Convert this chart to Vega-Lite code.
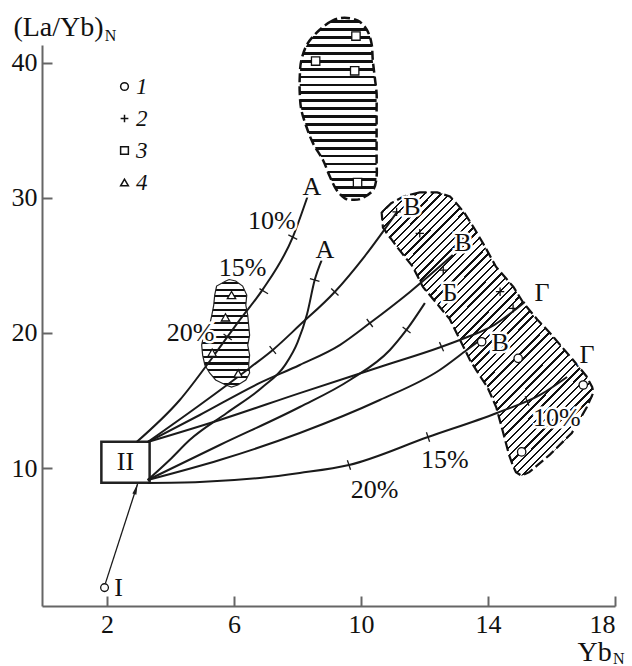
{
"$schema":"https://vega.github.io/schema/vega-lite/v6.json",
"width":573,"height":561,
"autosize":{"type":"none"},
"padding":{"left":42,"top":45,"right":17,"bottom":60},
"background":"white",
"config":{"view":{"stroke":null},"font":"Liberation Serif",
 "axis":{"domainColor":"#666","domainWidth":2,"tickColor":"#666","tickWidth":2,"tickSize":-10,"labelFont":"Liberation Serif","labelFontSize":26,"labelColor":"#111","grid":false,"title":null,"labelPadding":15}},
"datasets":{
"regions":[
{"r":"u","y":29.85,"x":9.76,"x2":9.76},{"r":"u","y":29.96,"x":9.49,"x2":10.03},{"r":"u","y":30.57,"x":9.23,"x2":10.38},{"r":"u","y":31.55,"x":9.02,"x2":10.49},{"r":"u","y":32.79,"x":8.8,"x2":10.49},{"r":"u","y":34.02,"x":8.49,"x2":10.49},{"r":"u","y":35.25,"x":8.28,"x2":10.49},{"r":"u","y":36.49,"x":8.12,"x2":10.49},{"r":"u","y":37.72,"x":8.07,"x2":10.49},{"r":"u","y":38.95,"x":8.07,"x2":10.43},{"r":"u","y":40.18,"x":8.12,"x2":10.37},{"r":"u","y":41.42,"x":8.32,"x2":10.33},{"r":"u","y":42.43,"x":8.7,"x2":10.18},{"r":"u","y":43.1,"x":9.1,"x2":9.9},{"r":"u","y":43.3,"x":9.35,"x2":9.6},
{"r":"t","y":16.0,"x":5.9,"x2":5.95},{"r":"t","y":16.15,"x":5.74,"x2":6.12},{"r":"t","y":16.52,"x":5.42,"x2":6.37},{"r":"t","y":17.04,"x":5.23,"x2":6.49},{"r":"t","y":17.63,"x":5.08,"x2":6.46},{"r":"t","y":18.36,"x":5.01,"x2":6.49},{"r":"t","y":19.1,"x":4.98,"x2":6.43},{"r":"t","y":19.84,"x":5.04,"x2":6.49},{"r":"t","y":20.58,"x":5.23,"x2":6.46},{"r":"t","y":21.32,"x":5.3,"x2":6.43},{"r":"t","y":22.06,"x":5.36,"x2":6.37},{"r":"t","y":22.8,"x":5.39,"x2":6.4},{"r":"t","y":23.47,"x":5.45,"x2":6.27},{"r":"t","y":23.84,"x":5.74,"x2":6.05},{"r":"t","y":23.95,"x":5.85,"x2":5.95},
{"r":"b","y":9.45,"x":15.02,"x2":15.08},{"r":"b","y":9.7,"x":14.88,"x2":15.3},{"r":"b","y":10.2,"x":14.78,"x2":15.55},{"r":"b","y":11.0,"x":14.66,"x2":15.95},{"r":"b","y":12.6,"x":14.48,"x2":16.64},{"r":"b","y":14.5,"x":14.26,"x2":17.11},{"r":"b","y":15.6,"x":14.08,"x2":17.32},{"r":"b","y":16.0,"x":13.98,"x2":17.28},{"r":"b","y":16.8,"x":13.75,"x2":17.1},{"r":"b","y":18.0,"x":13.43,"x2":16.68},{"r":"b","y":20.0,"x":13.01,"x2":15.95},{"r":"b","y":21.0,"x":12.8,"x2":15.55},{"r":"b","y":22.2,"x":12.38,"x2":15.12},{"r":"b","y":23.4,"x":11.95,"x2":14.8},{"r":"b","y":24.9,"x":11.63,"x2":14.25},{"r":"b","y":26.4,"x":11.12,"x2":13.9},{"r":"b","y":27.8,"x":10.69,"x2":13.55},{"r":"b","y":28.9,"x":10.65,"x2":13.25},{"r":"b","y":29.6,"x":10.95,"x2":13.0},{"r":"b","y":30.1,"x":11.35,"x2":12.8},{"r":"b","y":30.4,"x":11.85,"x2":12.4}
],
"outlines":[
{"r":"u","i":0,"x":9.48,"y":43.32},{"r":"u","i":1,"x":9.1,"y":43.1},{"r":"u","i":2,"x":8.7,"y":42.43},{"r":"u","i":3,"x":8.32,"y":41.42},{"r":"u","i":4,"x":8.12,"y":40.18},{"r":"u","i":5,"x":8.07,"y":38.95},{"r":"u","i":6,"x":8.07,"y":37.72},{"r":"u","i":7,"x":8.12,"y":36.49},{"r":"u","i":8,"x":8.28,"y":35.25},{"r":"u","i":9,"x":8.49,"y":34.02},{"r":"u","i":10,"x":8.8,"y":32.79},{"r":"u","i":11,"x":9.02,"y":31.55},{"r":"u","i":12,"x":9.23,"y":30.57},{"r":"u","i":13,"x":9.49,"y":29.96},{"r":"u","i":14,"x":9.76,"y":29.85},{"r":"u","i":15,"x":10.03,"y":29.96},{"r":"u","i":16,"x":10.38,"y":30.57},{"r":"u","i":17,"x":10.49,"y":31.55},{"r":"u","i":18,"x":10.49,"y":32.79},{"r":"u","i":19,"x":10.49,"y":34.02},{"r":"u","i":20,"x":10.49,"y":35.25},{"r":"u","i":21,"x":10.49,"y":36.49},{"r":"u","i":22,"x":10.49,"y":37.72},{"r":"u","i":23,"x":10.43,"y":38.95},{"r":"u","i":24,"x":10.37,"y":40.18},{"r":"u","i":25,"x":10.33,"y":41.42},{"r":"u","i":26,"x":10.18,"y":42.43},{"r":"u","i":27,"x":9.9,"y":43.1},
{"r":"t","i":0,"x":5.85,"y":23.95},{"r":"t","i":1,"x":5.74,"y":23.84},{"r":"t","i":2,"x":5.45,"y":23.47},{"r":"t","i":3,"x":5.39,"y":22.8},{"r":"t","i":4,"x":5.36,"y":22.06},{"r":"t","i":5,"x":5.3,"y":21.32},{"r":"t","i":6,"x":5.23,"y":20.58},{"r":"t","i":7,"x":5.04,"y":19.84},{"r":"t","i":8,"x":4.98,"y":19.1},{"r":"t","i":9,"x":5.01,"y":18.36},{"r":"t","i":10,"x":5.08,"y":17.63},{"r":"t","i":11,"x":5.23,"y":17.04},{"r":"t","i":12,"x":5.42,"y":16.52},{"r":"t","i":13,"x":5.74,"y":16.15},{"r":"t","i":14,"x":5.92,"y":16.0},{"r":"t","i":15,"x":6.12,"y":16.15},{"r":"t","i":16,"x":6.37,"y":16.52},{"r":"t","i":17,"x":6.49,"y":17.04},{"r":"t","i":18,"x":6.46,"y":17.63},{"r":"t","i":19,"x":6.49,"y":18.36},{"r":"t","i":20,"x":6.43,"y":19.1},{"r":"t","i":21,"x":6.49,"y":19.84},{"r":"t","i":22,"x":6.46,"y":20.58},{"r":"t","i":23,"x":6.43,"y":21.32},{"r":"t","i":24,"x":6.37,"y":22.06},{"r":"t","i":25,"x":6.4,"y":22.8},{"r":"t","i":26,"x":6.27,"y":23.47},{"r":"t","i":27,"x":6.05,"y":23.84},
{"r":"b","i":0,"x":11.85,"y":30.4},{"r":"b","i":1,"x":11.35,"y":30.1},{"r":"b","i":2,"x":10.95,"y":29.6},{"r":"b","i":3,"x":10.65,"y":28.9},{"r":"b","i":4,"x":10.69,"y":27.8},{"r":"b","i":5,"x":11.12,"y":26.4},{"r":"b","i":6,"x":11.63,"y":24.9},{"r":"b","i":7,"x":11.95,"y":23.4},{"r":"b","i":8,"x":12.38,"y":22.2},{"r":"b","i":9,"x":12.8,"y":21.0},{"r":"b","i":10,"x":13.01,"y":20.0},{"r":"b","i":11,"x":13.43,"y":18.0},{"r":"b","i":12,"x":13.75,"y":16.8},{"r":"b","i":13,"x":13.98,"y":16.0},{"r":"b","i":14,"x":14.26,"y":14.5},{"r":"b","i":15,"x":14.48,"y":12.6},{"r":"b","i":16,"x":14.66,"y":11.0},{"r":"b","i":17,"x":14.78,"y":10.2},{"r":"b","i":18,"x":14.88,"y":9.7},{"r":"b","i":19,"x":15.05,"y":9.45},{"r":"b","i":20,"x":15.3,"y":9.7},{"r":"b","i":21,"x":15.55,"y":10.2},{"r":"b","i":22,"x":15.95,"y":11.0},{"r":"b","i":23,"x":16.64,"y":12.6},{"r":"b","i":24,"x":17.11,"y":14.5},{"r":"b","i":25,"x":17.32,"y":15.6},{"r":"b","i":26,"x":17.28,"y":16.0},{"r":"b","i":27,"x":17.1,"y":16.8},{"r":"b","i":28,"x":16.68,"y":18.0},{"r":"b","i":29,"x":15.95,"y":20.0},{"r":"b","i":30,"x":15.55,"y":21.0},{"r":"b","i":31,"x":15.12,"y":22.2},{"r":"b","i":32,"x":14.8,"y":23.4},{"r":"b","i":33,"x":14.25,"y":24.9},{"r":"b","i":34,"x":13.9,"y":26.4},{"r":"b","i":35,"x":13.55,"y":27.8},{"r":"b","i":36,"x":13.25,"y":28.9},{"r":"b","i":37,"x":13.0,"y":29.6},{"r":"b","i":38,"x":12.8,"y":30.1},{"r":"b","i":39,"x":12.4,"y":30.4}
],
"curves":[
{"c":"a1","x":2.93,"y":11.93},{"c":"a1","x":4.29,"y":15.04},{"c":"a1","x":5.33,"y":18.22},{"c":"a1","x":6.18,"y":20.97},{"c":"a1","x":6.9,"y":23.2},{"c":"a1","x":7.85,"y":27.09},{"c":"a1","x":8.32,"y":30.13},
{"c":"a2","x":3.28,"y":9.12},{"c":"a2","x":3.97,"y":10.6},{"c":"a2","x":4.6,"y":12.08},{"c":"a2","x":5.77,"y":14.08},{"c":"a2","x":6.9,"y":16.0},{"c":"a2","x":7.6,"y":17.6},{"c":"a2","x":8.0,"y":19.3},{"c":"a2","x":8.3,"y":21.4},{"c":"a2","x":8.54,"y":23.91},{"c":"a2","x":8.76,"y":25.39},
{"c":"b1","x":3.28,"y":11.93},{"c":"b1","x":4.92,"y":14.67},{"c":"b1","x":6.49,"y":17.41},{"c":"b1","x":7.22,"y":18.74},{"c":"b1","x":8.07,"y":20.58},{"c":"b1","x":9.17,"y":23.03},{"c":"b1","x":10.12,"y":25.69},{"c":"b1","x":11.13,"y":28.94},
{"c":"b2","x":3.28,"y":11.93},{"c":"b2","x":4.92,"y":13.93},{"c":"b2","x":6.81,"y":16.3},{"c":"b2","x":8.07,"y":17.63},{"c":"b2","x":9.33,"y":19.1},{"c":"b2","x":10.28,"y":20.73},{"c":"b2","x":11.54,"y":23.03},{"c":"b2","x":12.89,"y":25.76},
{"c":"g1","x":3.28,"y":11.93},{"c":"g1","x":5.55,"y":13.56},{"c":"g1","x":8.07,"y":15.55},{"c":"g1","x":10.59,"y":17.48},{"c":"g1","x":12.54,"y":18.98},{"c":"g1","x":13.11,"y":19.48},{"c":"g1","x":14.2,"y":20.6},{"c":"g1","x":15.16,"y":22.29},
{"c":"bb","x":3.28,"y":9.12},{"c":"bb","x":5.55,"y":11.71},{"c":"bb","x":8.07,"y":14.52},{"c":"bb","x":9.65,"y":16.52},{"c":"bb","x":10.91,"y":18.74},{"c":"bb","x":11.43,"y":20.22},{"c":"bb","x":12.01,"y":22.21},
{"c":"b3","x":3.28,"y":9.12},{"c":"b3","x":5.55,"y":10.6},{"c":"b3","x":8.07,"y":12.6},{"c":"b3","x":10.59,"y":15.04},{"c":"b3","x":12.48,"y":17.26},{"c":"b3","x":13.33,"y":18.74},{"c":"b3","x":13.75,"y":19.48},
{"c":"g2","x":3.28,"y":8.9},{"c":"g2","x":4.92,"y":8.97},{"c":"g2","x":6.81,"y":9.27},{"c":"g2","x":8.07,"y":9.64},{"c":"g2","x":9.62,"y":10.23},{"c":"g2","x":12.11,"y":12.3},{"c":"g2","x":14.28,"y":14.08},{"c":"g2","x":15.64,"y":15.41},{"c":"g2","x":16.49,"y":16.74}
],
"ticks":[
{"x":7.71,"y":27.25,"x2":7.99,"y2":26.92},{"x":6.8,"y":23.28,"x2":7.07,"y2":22.9},{"x":5.67,"y":19.92,"x2":5.93,"y2":19.48},{"x":8.39,"y":24.02,"x2":8.69,"y2":23.81},{"x":7.12,"y":19.02,"x2":7.32,"y2":18.45},{"x":9.06,"y":23.28,"x2":9.29,"y2":22.77},{"x":10.18,"y":21.03,"x2":10.37,"y2":20.44},{"x":11.31,"y":20.44,"x2":11.56,"y2":19.99},{"x":12.47,"y":19.32,"x2":12.6,"y2":18.64},{"x":9.57,"y":10.58,"x2":9.67,"y2":9.88},{"x":12.06,"y":12.65,"x2":12.16,"y2":11.95},{"x":15.17,"y":15.31,"x2":15.29,"y2":14.62}
],
"pts":[
{"g":"1","x":13.8,"y":19.35},{"g":"1","x":14.95,"y":18.12},{"g":"1","x":17.0,"y":16.15},{"g":"1","x":15.06,"y":11.2},
{"g":"2","x":11.12,"y":28.96},{"g":"2","x":11.85,"y":27.37},{"g":"2","x":12.59,"y":24.65},{"g":"2","x":14.38,"y":23.05},{"g":"2","x":14.79,"y":21.82},
{"g":"3","x":9.84,"y":41.96},{"g":"3","x":8.57,"y":40.11},{"g":"3","x":9.8,"y":39.39},{"g":"3","x":9.89,"y":31.12},
{"g":"4","x":5.92,"y":22.8},{"g":"4","x":5.73,"y":21.15},{"g":"4","x":5.31,"y":18.54},{"g":"4","x":6.13,"y":17.0}
],
"labels":[
{"t":"А","x":8.45,"y":30.8},{"t":"А","x":8.86,"y":26.13},{"t":"В","x":11.6,"y":29.32},{"t":"В","x":13.21,"y":26.65},{"t":"Б","x":12.8,"y":22.95},{"t":"Г","x":15.7,"y":22.95},{"t":"В","x":14.38,"y":19.25},{"t":"Г","x":17.12,"y":18.38},
{"t":"10%","x":7.19,"y":28.28},{"t":"15%","x":6.27,"y":24.8},{"t":"20%","x":4.63,"y":19.99},{"t":"10%","x":16.17,"y":13.7},{"t":"15%","x":12.64,"y":10.6},{"t":"20%","x":10.43,"y":8.38},
{"t":"II","x":2.58,"y":10.45},{"t":"I","x":2.36,"y":1.13}
],
"ttl":[{"t":"(La/Yb)","x":1.89,"y":42.55},{"t":"Yb","x":17.9,"y":-3.7}],
"sub":[{"t":"N","x":1.93,"y":42.0},{"t":"N","x":17.94,"y":-4.15}],
"box":[{"x":1.82,"x2":3.34,"y":8.92,"y2":11.95}],
"arrow":[{"x":1.95,"y":1.49,"x2":2.96,"y2":8.82}],
"head":[{"x":2.91,"y":8.45}],
"p0":[{"x":1.92,"y":1.16}]
},
"encoding":{
 "x":{"field":"x","type":"quantitative","stack":null,"scale":{"domain":[-0.05,18],"nice":false,"zero":false},"axis":{"values":[2,6,10,14,18]}},
 "y":{"field":"y","type":"quantitative","scale":{"domain":[-0.2,41.3],"nice":false,"zero":false},"axis":{"values":[10,20,30,40]}}
},
"layer":[
{"data":{"name":"regions"},"transform":[{"filter":"datum.r=='u'"}],
 "mark":{"type":"area","orient":"horizontal","interpolate":"monotone","fill":{"gradient":"linear","x1":0,"y1":0,"x2":0,"y2":1,"stops":[
{"offset":0,"color":"#fff"},
{"offset":0.013,"color":"#fff"},{"offset":0.013,"color":"#111"},{"offset":0.0283,"color":"#111"},{"offset":0.0283,"color":"#fff"},
{"offset":0.0565,"color":"#fff"},{"offset":0.0565,"color":"#111"},{"offset":0.0717,"color":"#111"},{"offset":0.0717,"color":"#fff"},
{"offset":0.1,"color":"#fff"},{"offset":0.1,"color":"#111"},{"offset":0.1152,"color":"#111"},{"offset":0.1152,"color":"#fff"},
{"offset":0.1435,"color":"#fff"},{"offset":0.1435,"color":"#111"},{"offset":0.1587,"color":"#111"},{"offset":0.1587,"color":"#fff"},
{"offset":0.187,"color":"#fff"},{"offset":0.187,"color":"#111"},{"offset":0.2022,"color":"#111"},{"offset":0.2022,"color":"#fff"},
{"offset":0.2304,"color":"#fff"},{"offset":0.2304,"color":"#111"},{"offset":0.2457,"color":"#111"},{"offset":0.2457,"color":"#fff"},
{"offset":0.2739,"color":"#fff"},{"offset":0.2739,"color":"#111"},{"offset":0.2891,"color":"#111"},{"offset":0.2891,"color":"#fff"},
{"offset":0.3174,"color":"#fff"},{"offset":0.3174,"color":"#111"},{"offset":0.3326,"color":"#111"},{"offset":0.3326,"color":"#fff"},
{"offset":0.3609,"color":"#fff"},{"offset":0.3609,"color":"#111"},{"offset":0.3761,"color":"#111"},{"offset":0.3761,"color":"#fff"},
{"offset":0.4043,"color":"#fff"},{"offset":0.4043,"color":"#111"},{"offset":0.4196,"color":"#111"},{"offset":0.4196,"color":"#fff"},
{"offset":0.4478,"color":"#fff"},{"offset":0.4478,"color":"#111"},{"offset":0.463,"color":"#111"},{"offset":0.463,"color":"#fff"},
{"offset":0.4913,"color":"#fff"},{"offset":0.4913,"color":"#111"},{"offset":0.5065,"color":"#111"},{"offset":0.5065,"color":"#fff"},
{"offset":0.5348,"color":"#fff"},{"offset":0.5348,"color":"#111"},{"offset":0.55,"color":"#111"},{"offset":0.55,"color":"#fff"},
{"offset":0.5783,"color":"#fff"},{"offset":0.5783,"color":"#111"},{"offset":0.5935,"color":"#111"},{"offset":0.5935,"color":"#fff"},
{"offset":0.6217,"color":"#fff"},{"offset":0.6217,"color":"#111"},{"offset":0.637,"color":"#111"},{"offset":0.637,"color":"#fff"},
{"offset":0.6652,"color":"#fff"},{"offset":0.6652,"color":"#111"},{"offset":0.6804,"color":"#111"},{"offset":0.6804,"color":"#fff"},
{"offset":0.7087,"color":"#fff"},{"offset":0.7087,"color":"#111"},{"offset":0.7239,"color":"#111"},{"offset":0.7239,"color":"#fff"},
{"offset":0.7522,"color":"#fff"},{"offset":0.7522,"color":"#111"},{"offset":0.7674,"color":"#111"},{"offset":0.7674,"color":"#fff"},
{"offset":0.7957,"color":"#fff"},{"offset":0.7957,"color":"#111"},{"offset":0.8109,"color":"#111"},{"offset":0.8109,"color":"#fff"},
{"offset":0.8391,"color":"#fff"},{"offset":0.8391,"color":"#111"},{"offset":0.8543,"color":"#111"},{"offset":0.8543,"color":"#fff"},
{"offset":0.8826,"color":"#fff"},{"offset":0.8826,"color":"#111"},{"offset":0.8978,"color":"#111"},{"offset":0.8978,"color":"#fff"},
{"offset":0.9261,"color":"#fff"},{"offset":0.9261,"color":"#111"},{"offset":0.9413,"color":"#111"},{"offset":0.9413,"color":"#fff"},
{"offset":0.9696,"color":"#fff"},{"offset":0.9696,"color":"#111"},{"offset":0.9848,"color":"#111"},{"offset":0.9848,"color":"#fff"},
{"offset":1,"color":"#fff"}]}},
 "encoding":{"x2":{"field":"x2"}}},
{"data":{"name":"outlines"},"transform":[{"filter":"datum.r=='u'"}],
 "mark":{"type":"line","interpolate":"cardinal-closed","stroke":"#111","strokeWidth":2.5,"strokeDash":[9,4]},
 "encoding":{"order":{"field":"i","type":"quantitative"}}},
{"data":{"name":"regions"},"transform":[{"filter":"datum.r=='t'"}],
 "mark":{"type":"area","orient":"horizontal","interpolate":"linear","fill":{"gradient":"linear","x1":0,"y1":0,"x2":0,"y2":1,"stops":[
{"offset":0,"color":"#fff"},
{"offset":0.0219,"color":"#fff"},{"offset":0.0219,"color":"#111"},{"offset":0.0406,"color":"#111"},{"offset":0.0406,"color":"#fff"},
{"offset":0.0844,"color":"#fff"},{"offset":0.0844,"color":"#111"},{"offset":0.1031,"color":"#111"},{"offset":0.1031,"color":"#fff"},
{"offset":0.1469,"color":"#fff"},{"offset":0.1469,"color":"#111"},{"offset":0.1656,"color":"#111"},{"offset":0.1656,"color":"#fff"},
{"offset":0.2094,"color":"#fff"},{"offset":0.2094,"color":"#111"},{"offset":0.2281,"color":"#111"},{"offset":0.2281,"color":"#fff"},
{"offset":0.2719,"color":"#fff"},{"offset":0.2719,"color":"#111"},{"offset":0.2906,"color":"#111"},{"offset":0.2906,"color":"#fff"},
{"offset":0.3344,"color":"#fff"},{"offset":0.3344,"color":"#111"},{"offset":0.3531,"color":"#111"},{"offset":0.3531,"color":"#fff"},
{"offset":0.3969,"color":"#fff"},{"offset":0.3969,"color":"#111"},{"offset":0.4156,"color":"#111"},{"offset":0.4156,"color":"#fff"},
{"offset":0.4594,"color":"#fff"},{"offset":0.4594,"color":"#111"},{"offset":0.4781,"color":"#111"},{"offset":0.4781,"color":"#fff"},
{"offset":0.5219,"color":"#fff"},{"offset":0.5219,"color":"#111"},{"offset":0.5406,"color":"#111"},{"offset":0.5406,"color":"#fff"},
{"offset":0.5844,"color":"#fff"},{"offset":0.5844,"color":"#111"},{"offset":0.6031,"color":"#111"},{"offset":0.6031,"color":"#fff"},
{"offset":0.6469,"color":"#fff"},{"offset":0.6469,"color":"#111"},{"offset":0.6656,"color":"#111"},{"offset":0.6656,"color":"#fff"},
{"offset":0.7094,"color":"#fff"},{"offset":0.7094,"color":"#111"},{"offset":0.7281,"color":"#111"},{"offset":0.7281,"color":"#fff"},
{"offset":0.7719,"color":"#fff"},{"offset":0.7719,"color":"#111"},{"offset":0.7906,"color":"#111"},{"offset":0.7906,"color":"#fff"},
{"offset":0.8344,"color":"#fff"},{"offset":0.8344,"color":"#111"},{"offset":0.8531,"color":"#111"},{"offset":0.8531,"color":"#fff"},
{"offset":0.8969,"color":"#fff"},{"offset":0.8969,"color":"#111"},{"offset":0.9156,"color":"#111"},{"offset":0.9156,"color":"#fff"},
{"offset":0.9594,"color":"#fff"},{"offset":0.9594,"color":"#111"},{"offset":0.9781,"color":"#111"},{"offset":0.9781,"color":"#fff"},
{"offset":1,"color":"#fff"}]}},
 "encoding":{"x2":{"field":"x2"}}},
{"data":{"name":"outlines"},"transform":[{"filter":"datum.r=='t'"}],
 "mark":{"type":"line","interpolate":"linear-closed","stroke":"#222","strokeWidth":1.2},
 "encoding":{"order":{"field":"i","type":"quantitative"}}},
{"data":{"name":"regions"},"transform":[{"filter":"datum.r=='b'"}],
 "mark":{"type":"area","orient":"horizontal","interpolate":"monotone","fill":{"gradient":"linear","x1":0,"y1":0,"x2":1,"y2":1.33,"stops":[
{"offset":0,"color":"#fff"},
{"offset":0.004,"color":"#fff"},{"offset":0.004,"color":"#111"},{"offset":0.008,"color":"#111"},{"offset":0.008,"color":"#fff"},
{"offset":0.018,"color":"#fff"},{"offset":0.018,"color":"#111"},{"offset":0.022,"color":"#111"},{"offset":0.022,"color":"#fff"},
{"offset":0.032,"color":"#fff"},{"offset":0.032,"color":"#111"},{"offset":0.036,"color":"#111"},{"offset":0.036,"color":"#fff"},
{"offset":0.046,"color":"#fff"},{"offset":0.046,"color":"#111"},{"offset":0.05,"color":"#111"},{"offset":0.05,"color":"#fff"},
{"offset":0.06,"color":"#fff"},{"offset":0.06,"color":"#111"},{"offset":0.064,"color":"#111"},{"offset":0.064,"color":"#fff"},
{"offset":0.074,"color":"#fff"},{"offset":0.074,"color":"#111"},{"offset":0.078,"color":"#111"},{"offset":0.078,"color":"#fff"},
{"offset":0.088,"color":"#fff"},{"offset":0.088,"color":"#111"},{"offset":0.092,"color":"#111"},{"offset":0.092,"color":"#fff"},
{"offset":0.102,"color":"#fff"},{"offset":0.102,"color":"#111"},{"offset":0.106,"color":"#111"},{"offset":0.106,"color":"#fff"},
{"offset":0.116,"color":"#fff"},{"offset":0.116,"color":"#111"},{"offset":0.12,"color":"#111"},{"offset":0.12,"color":"#fff"},
{"offset":0.13,"color":"#fff"},{"offset":0.13,"color":"#111"},{"offset":0.134,"color":"#111"},{"offset":0.134,"color":"#fff"},
{"offset":0.144,"color":"#fff"},{"offset":0.144,"color":"#111"},{"offset":0.148,"color":"#111"},{"offset":0.148,"color":"#fff"},
{"offset":0.158,"color":"#fff"},{"offset":0.158,"color":"#111"},{"offset":0.162,"color":"#111"},{"offset":0.162,"color":"#fff"},
{"offset":0.172,"color":"#fff"},{"offset":0.172,"color":"#111"},{"offset":0.176,"color":"#111"},{"offset":0.176,"color":"#fff"},
{"offset":0.186,"color":"#fff"},{"offset":0.186,"color":"#111"},{"offset":0.19,"color":"#111"},{"offset":0.19,"color":"#fff"},
{"offset":0.2,"color":"#fff"},{"offset":0.2,"color":"#111"},{"offset":0.204,"color":"#111"},{"offset":0.204,"color":"#fff"},
{"offset":0.214,"color":"#fff"},{"offset":0.214,"color":"#111"},{"offset":0.218,"color":"#111"},{"offset":0.218,"color":"#fff"},
{"offset":0.228,"color":"#fff"},{"offset":0.228,"color":"#111"},{"offset":0.232,"color":"#111"},{"offset":0.232,"color":"#fff"},
{"offset":0.242,"color":"#fff"},{"offset":0.242,"color":"#111"},{"offset":0.246,"color":"#111"},{"offset":0.246,"color":"#fff"},
{"offset":0.256,"color":"#fff"},{"offset":0.256,"color":"#111"},{"offset":0.26,"color":"#111"},{"offset":0.26,"color":"#fff"},
{"offset":0.27,"color":"#fff"},{"offset":0.27,"color":"#111"},{"offset":0.274,"color":"#111"},{"offset":0.274,"color":"#fff"},
{"offset":0.284,"color":"#fff"},{"offset":0.284,"color":"#111"},{"offset":0.288,"color":"#111"},{"offset":0.288,"color":"#fff"},
{"offset":0.298,"color":"#fff"},{"offset":0.298,"color":"#111"},{"offset":0.302,"color":"#111"},{"offset":0.302,"color":"#fff"},
{"offset":0.312,"color":"#fff"},{"offset":0.312,"color":"#111"},{"offset":0.316,"color":"#111"},{"offset":0.316,"color":"#fff"},
{"offset":0.326,"color":"#fff"},{"offset":0.326,"color":"#111"},{"offset":0.33,"color":"#111"},{"offset":0.33,"color":"#fff"},
{"offset":0.34,"color":"#fff"},{"offset":0.34,"color":"#111"},{"offset":0.344,"color":"#111"},{"offset":0.344,"color":"#fff"},
{"offset":0.354,"color":"#fff"},{"offset":0.354,"color":"#111"},{"offset":0.358,"color":"#111"},{"offset":0.358,"color":"#fff"},
{"offset":0.368,"color":"#fff"},{"offset":0.368,"color":"#111"},{"offset":0.372,"color":"#111"},{"offset":0.372,"color":"#fff"},
{"offset":0.382,"color":"#fff"},{"offset":0.382,"color":"#111"},{"offset":0.386,"color":"#111"},{"offset":0.386,"color":"#fff"},
{"offset":0.396,"color":"#fff"},{"offset":0.396,"color":"#111"},{"offset":0.4,"color":"#111"},{"offset":0.4,"color":"#fff"},
{"offset":0.41,"color":"#fff"},{"offset":0.41,"color":"#111"},{"offset":0.414,"color":"#111"},{"offset":0.414,"color":"#fff"},
{"offset":0.424,"color":"#fff"},{"offset":0.424,"color":"#111"},{"offset":0.428,"color":"#111"},{"offset":0.428,"color":"#fff"},
{"offset":0.438,"color":"#fff"},{"offset":0.438,"color":"#111"},{"offset":0.442,"color":"#111"},{"offset":0.442,"color":"#fff"},
{"offset":0.452,"color":"#fff"},{"offset":0.452,"color":"#111"},{"offset":0.456,"color":"#111"},{"offset":0.456,"color":"#fff"},
{"offset":0.466,"color":"#fff"},{"offset":0.466,"color":"#111"},{"offset":0.47,"color":"#111"},{"offset":0.47,"color":"#fff"},
{"offset":0.48,"color":"#fff"},{"offset":0.48,"color":"#111"},{"offset":0.484,"color":"#111"},{"offset":0.484,"color":"#fff"},
{"offset":0.494,"color":"#fff"},{"offset":0.494,"color":"#111"},{"offset":0.498,"color":"#111"},{"offset":0.498,"color":"#fff"},
{"offset":0.508,"color":"#fff"},{"offset":0.508,"color":"#111"},{"offset":0.512,"color":"#111"},{"offset":0.512,"color":"#fff"},
{"offset":0.522,"color":"#fff"},{"offset":0.522,"color":"#111"},{"offset":0.526,"color":"#111"},{"offset":0.526,"color":"#fff"},
{"offset":0.536,"color":"#fff"},{"offset":0.536,"color":"#111"},{"offset":0.54,"color":"#111"},{"offset":0.54,"color":"#fff"},
{"offset":0.55,"color":"#fff"},{"offset":0.55,"color":"#111"},{"offset":0.554,"color":"#111"},{"offset":0.554,"color":"#fff"},
{"offset":0.564,"color":"#fff"},{"offset":0.564,"color":"#111"},{"offset":0.568,"color":"#111"},{"offset":0.568,"color":"#fff"},
{"offset":0.578,"color":"#fff"},{"offset":0.578,"color":"#111"},{"offset":0.582,"color":"#111"},{"offset":0.582,"color":"#fff"},
{"offset":0.592,"color":"#fff"},{"offset":0.592,"color":"#111"},{"offset":0.596,"color":"#111"},{"offset":0.596,"color":"#fff"},
{"offset":0.606,"color":"#fff"},{"offset":0.606,"color":"#111"},{"offset":0.61,"color":"#111"},{"offset":0.61,"color":"#fff"},
{"offset":0.62,"color":"#fff"},{"offset":0.62,"color":"#111"},{"offset":0.624,"color":"#111"},{"offset":0.624,"color":"#fff"},
{"offset":0.634,"color":"#fff"},{"offset":0.634,"color":"#111"},{"offset":0.638,"color":"#111"},{"offset":0.638,"color":"#fff"},
{"offset":0.648,"color":"#fff"},{"offset":0.648,"color":"#111"},{"offset":0.652,"color":"#111"},{"offset":0.652,"color":"#fff"},
{"offset":0.662,"color":"#fff"},{"offset":0.662,"color":"#111"},{"offset":0.666,"color":"#111"},{"offset":0.666,"color":"#fff"},
{"offset":0.676,"color":"#fff"},{"offset":0.676,"color":"#111"},{"offset":0.68,"color":"#111"},{"offset":0.68,"color":"#fff"},
{"offset":0.69,"color":"#fff"},{"offset":0.69,"color":"#111"},{"offset":0.694,"color":"#111"},{"offset":0.694,"color":"#fff"},
{"offset":0.704,"color":"#fff"},{"offset":0.704,"color":"#111"},{"offset":0.708,"color":"#111"},{"offset":0.708,"color":"#fff"},
{"offset":0.718,"color":"#fff"},{"offset":0.718,"color":"#111"},{"offset":0.722,"color":"#111"},{"offset":0.722,"color":"#fff"},
{"offset":0.732,"color":"#fff"},{"offset":0.732,"color":"#111"},{"offset":0.736,"color":"#111"},{"offset":0.736,"color":"#fff"},
{"offset":0.746,"color":"#fff"},{"offset":0.746,"color":"#111"},{"offset":0.75,"color":"#111"},{"offset":0.75,"color":"#fff"},
{"offset":0.76,"color":"#fff"},{"offset":0.76,"color":"#111"},{"offset":0.764,"color":"#111"},{"offset":0.764,"color":"#fff"},
{"offset":0.774,"color":"#fff"},{"offset":0.774,"color":"#111"},{"offset":0.778,"color":"#111"},{"offset":0.778,"color":"#fff"},
{"offset":0.788,"color":"#fff"},{"offset":0.788,"color":"#111"},{"offset":0.792,"color":"#111"},{"offset":0.792,"color":"#fff"},
{"offset":0.802,"color":"#fff"},{"offset":0.802,"color":"#111"},{"offset":0.806,"color":"#111"},{"offset":0.806,"color":"#fff"},
{"offset":0.816,"color":"#fff"},{"offset":0.816,"color":"#111"},{"offset":0.82,"color":"#111"},{"offset":0.82,"color":"#fff"},
{"offset":0.83,"color":"#fff"},{"offset":0.83,"color":"#111"},{"offset":0.834,"color":"#111"},{"offset":0.834,"color":"#fff"},
{"offset":0.844,"color":"#fff"},{"offset":0.844,"color":"#111"},{"offset":0.848,"color":"#111"},{"offset":0.848,"color":"#fff"},
{"offset":1,"color":"#fff"}]}},
 "encoding":{"x2":{"field":"x2"}}},
{"data":{"name":"outlines"},"transform":[{"filter":"datum.r=='b'"}],
 "mark":{"type":"line","interpolate":"linear-closed","stroke":"#111","strokeWidth":2.2,"strokeDash":[10,4]},
 "encoding":{"order":{"field":"i","type":"quantitative"}}},
{"data":{"name":"box"},"mark":{"type":"rect","fill":"white","stroke":"#222","strokeWidth":2.5},
 "encoding":{"x2":{"field":"x2"},"y2":{"field":"y2"}}},
{"data":{"name":"curves"},"mark":{"type":"line","interpolate":"monotone","stroke":"#1a1a1a","strokeWidth":2},
 "encoding":{"detail":{"field":"c","type":"nominal"}}},
{"data":{"name":"ticks"},"mark":{"type":"rule","stroke":"#1a1a1a","strokeWidth":1.3},
 "encoding":{"x2":{"field":"x2"},"y2":{"field":"y2"}}},
{"data":{"name":"arrow"},"mark":{"type":"rule","stroke":"#1a1a1a","strokeWidth":1.3},
 "encoding":{"x2":{"field":"x2"},"y2":{"field":"y2"}}},
{"data":{"name":"head"},"mark":{"type":"point","shape":"M0,-1L0.4,1L-0.4,1Z","filled":true,"fill":"#1a1a1a","stroke":null,"size":110,"angle":17.6,"opacity":1},"encoding":{}},
{"data":{"name":"p0"},"mark":{"type":"point","shape":"circle","filled":true,"fill":"white","stroke":"#111","strokeWidth":1.3,"size":60,"opacity":1},"encoding":{}},
{"data":{"name":"pts"},"mark":{"type":"point","filled":true,"fill":"white","stroke":"#111","strokeWidth":1.3,"size":70,"opacity":1},
 "encoding":{"shape":{"field":"g","type":"nominal","scale":{"domain":["1","2","3","4"],"range":["circle","M-1,0H1M0,-1V1","square","triangle-up"]},
  "legend":{"orient":"none","legendX":71,"legendY":30,"title":null,"direction":"vertical","rowPadding":8,"padding":0,"labelOffset":0,"labelFont":"Liberation Serif","labelFontStyle":"italic","labelFontSize":23,"labelColor":"#111","symbolSize":60,
   "encode":{"symbols":{"update":{"fill":{"value":"white"},"stroke":{"value":"#111"},"strokeWidth":{"value":1.3},"opacity":{"value":1}}}}}}}},
{"data":{"name":"labels"},"mark":{"type":"text","font":"Liberation Serif","fontSize":26,"stroke":"white","strokeWidth":5,"fill":"white","align":"center","baseline":"middle"},
 "encoding":{"text":{"field":"t"}}},
{"data":{"name":"labels"},"mark":{"type":"text","font":"Liberation Serif","fontSize":26,"fill":"#111","align":"center","baseline":"middle"},
 "encoding":{"text":{"field":"t"}}},
{"data":{"name":"ttl"},"mark":{"type":"text","font":"Liberation Serif","fontSize":28,"fill":"#111","align":"right","baseline":"middle"},
 "encoding":{"text":{"field":"t"}}},
{"data":{"name":"sub"},"mark":{"type":"text","font":"Liberation Serif","fontSize":16,"fill":"#111","align":"left","baseline":"middle"},
 "encoding":{"text":{"field":"t"}}}
]
}
